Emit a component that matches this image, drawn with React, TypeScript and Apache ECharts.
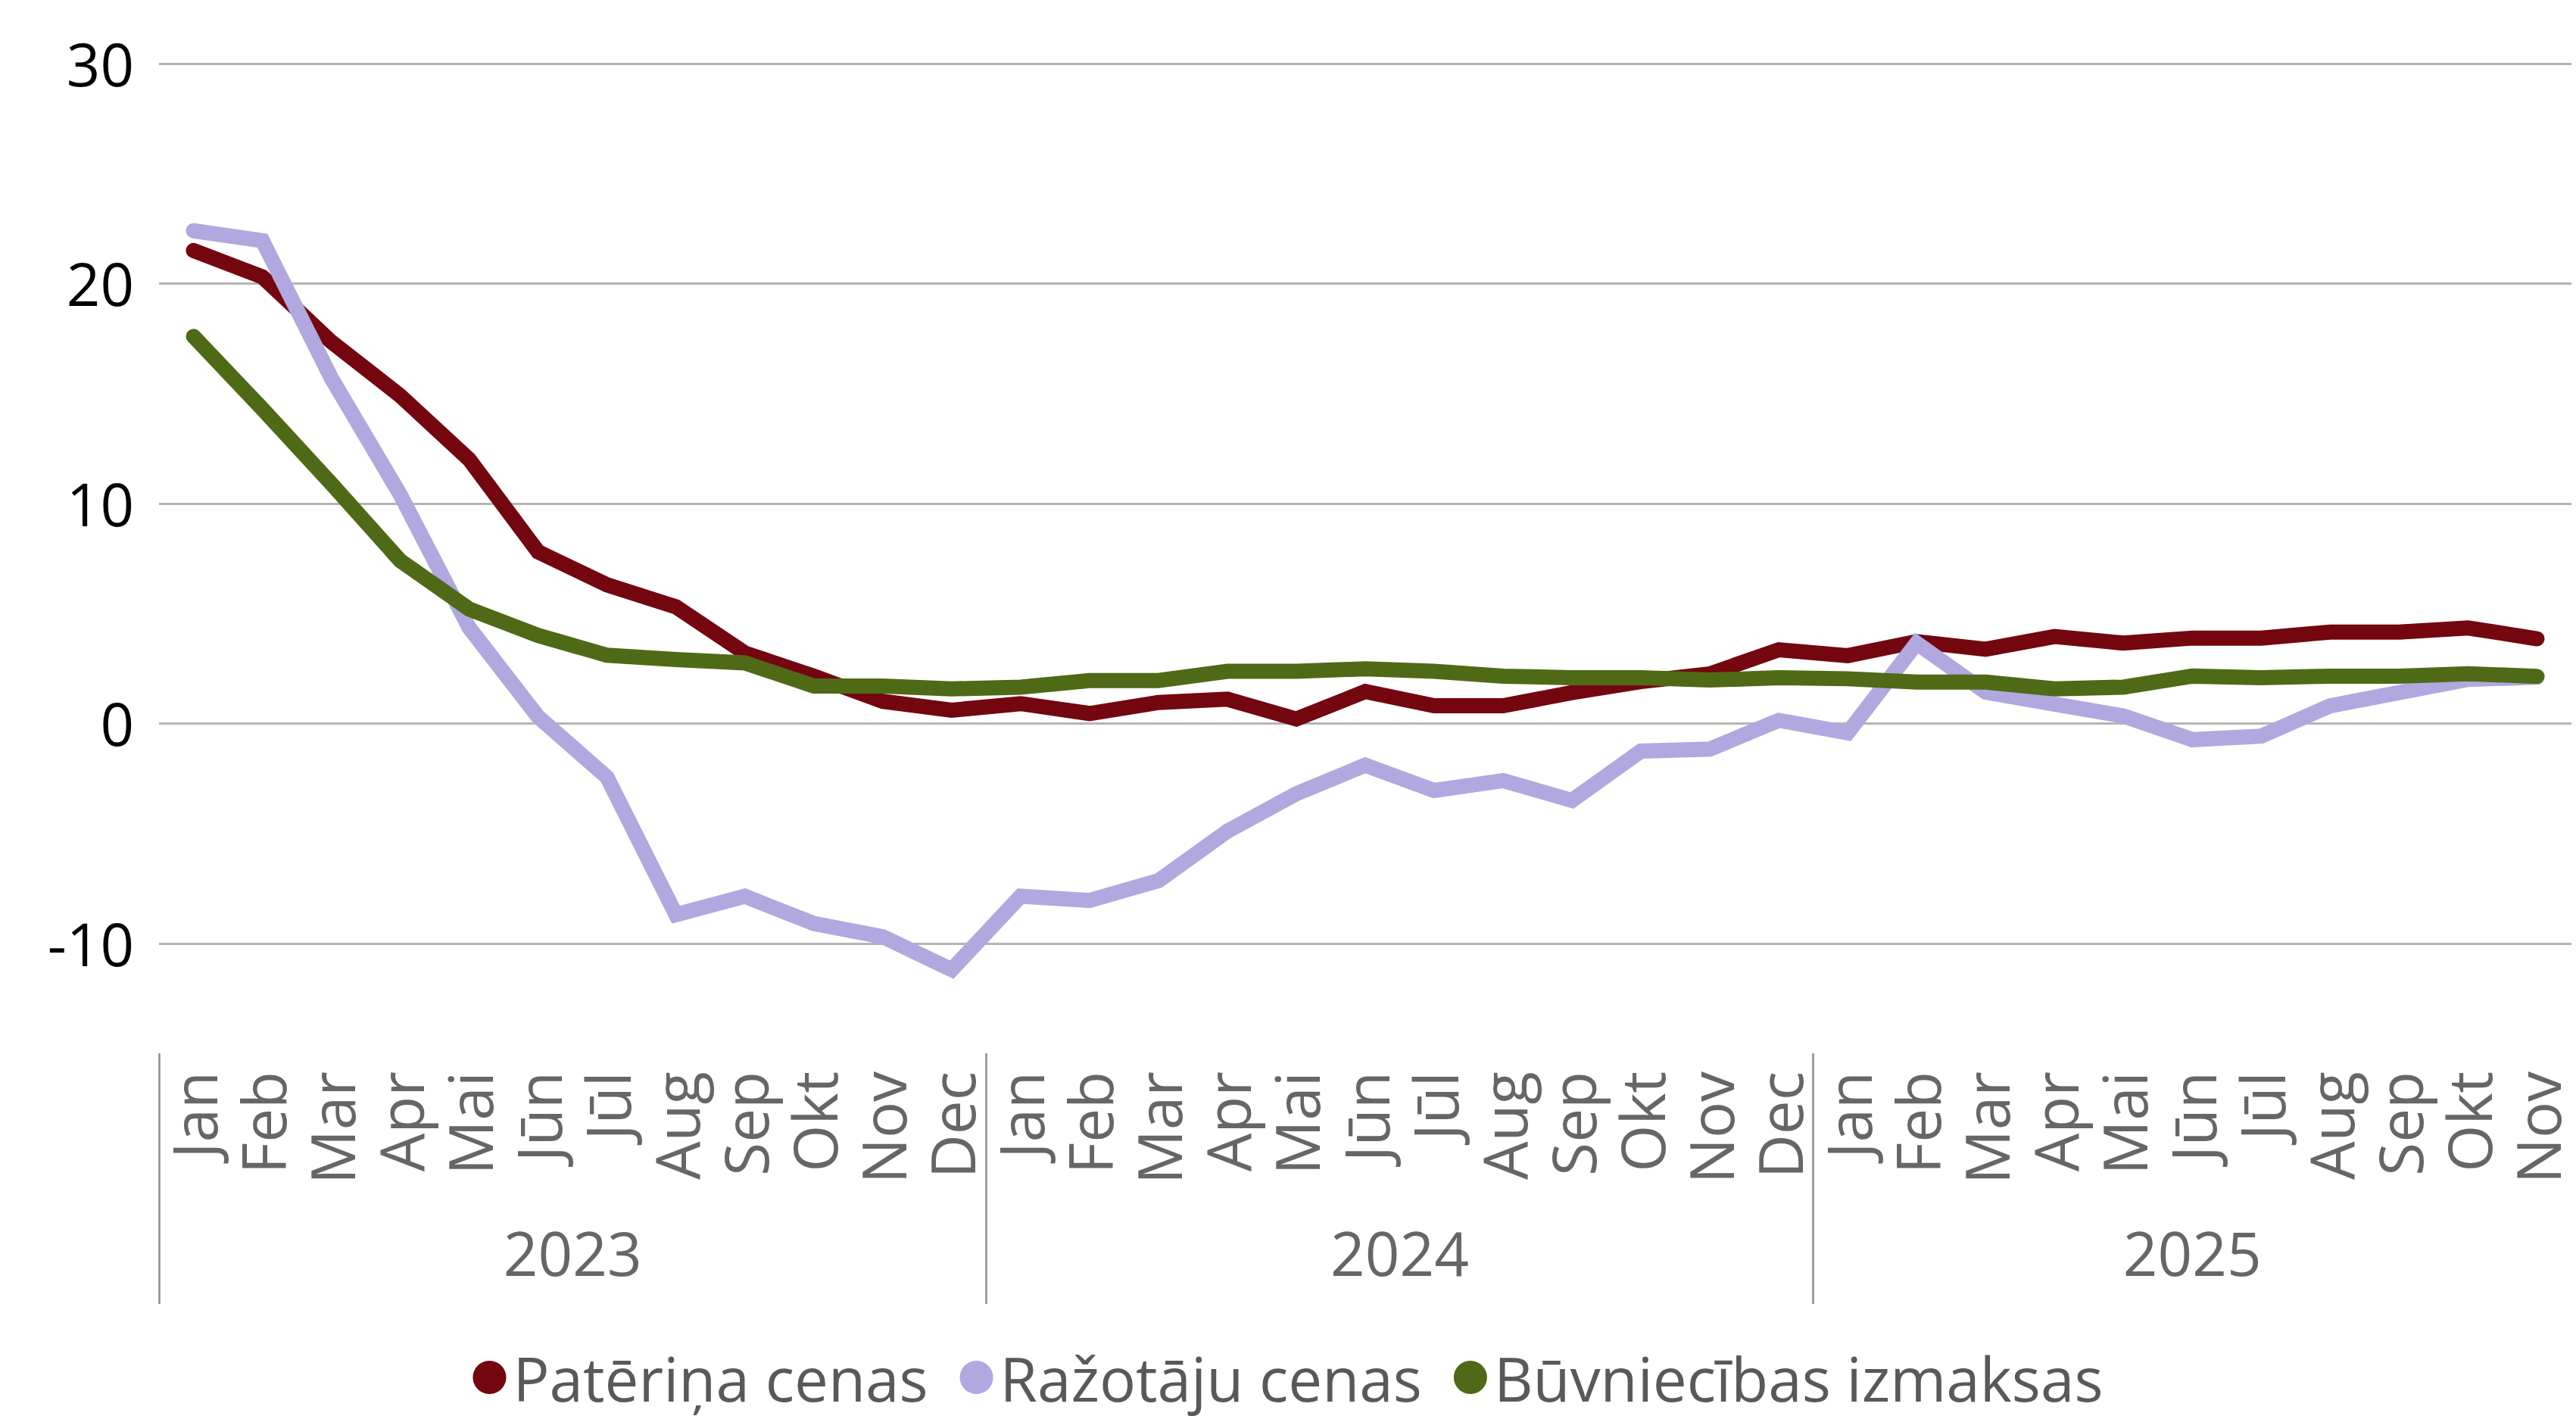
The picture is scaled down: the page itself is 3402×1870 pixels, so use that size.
import { useEffect, useRef } from 'react';
import * as echarts from 'echarts';

const monthNames = ['Jan', 'Feb', 'Mar', 'Apr', 'Mai', 'Jūn', 'Jūl', 'Aug', 'Sep', 'Okt', 'Nov', 'Dec'];
const years = ['2023', '2024', '2025'];
const monthsPerYear = [12, 12, 11];

const pateriņaCenas = [
  21.5, 20.3, 17.35, 14.9, 12.0, 7.8, 6.3, 5.3, 3.2, 2.15, 1.0, 0.6,
  0.9, 0.45, 0.95, 1.1, 0.2, 1.45, 0.8, 0.8, 1.4, 1.9, 2.25, 3.35,
  3.08, 3.72, 3.37, 3.95, 3.65, 3.88, 3.88, 4.15, 4.15, 4.34, 3.85,
];
const razotajuCenas = [
  22.4, 21.95, 15.7, 10.4, 4.35, 0.3, -2.45, -8.7, -7.86, -9.1, -9.7, -11.2,
  -7.86, -8.05, -7.15, -4.9, -3.2, -1.9, -3.05, -2.6, -3.5, -1.26, -1.17, 0.14,
  -0.43, 3.65, 1.42, 0.88, 0.34, -0.74, -0.58, 0.8, 1.4, 2.0, 2.1,
];
const buvniecibasIzmaksas = [
  17.6, 14.3, 10.9, 7.4, 5.2, 4.0, 3.1, 2.9, 2.75, 1.7, 1.7, 1.57,
  1.65, 1.95, 1.95, 2.37, 2.37, 2.48, 2.37, 2.15, 2.08, 2.08, 1.97, 2.08,
  2.03, 1.88, 1.88, 1.57, 1.65, 2.15, 2.08, 2.15, 2.15, 2.26, 2.14,
];

const seriesNames = ['Patēriņa cenas', 'Ražotāju cenas', 'Būvniecības izmaksas'];
const seriesColors = ['#74060F', '#B0A8DF', '#4F6A16'];

const categories: string[] = years.flatMap((_, k) => monthNames.slice(0, monthsPerYear[k]));

// half-month positions for the year level of the axis
const halfLabels: string[] = Array.from({ length: 2 * categories.length + 1 }, () => '');
const separatorIdx = new Set<number>();
{
  let start = 0;
  years.forEach((y, k) => {
    halfLabels[2 * start + monthsPerYear[k]] = y;
    separatorIdx.add(2 * start);
    start += monthsPerYear[k];
  });
}
const halfCats = halfLabels.map((_, i) => 'h' + i);

const FONT = 'Open Sans';

export default function App() {
  const ref = useRef<HTMLDivElement>(null);
  useEffect(() => {
    if (!ref.current) return;
    const chart = echarts.init(ref.current, undefined, { renderer: 'svg' });
    const data = [pateriņaCenas, razotajuCenas, buvniecibasIzmaksas];
    chart.setOption({
      animation: false,
      backgroundColor: '#ffffff',
      textStyle: { fontFamily: FONT },
      grid: { left: 210, top: 84, width: 3186, height: 1307, containLabel: false },
      legend: {
        bottom: 6,
        left: 'center',
        icon: 'circle',
        itemWidth: 44,
        itemHeight: 44,
        itemGap: 42,
        data: seriesNames,
        textStyle: {
          fontSize: 80,
          lineHeight: 80,
          color: '#595959',
          fontFamily: FONT,
          padding: [0, 0, 0, 4],
        },
      },
      xAxis: [
        {
          type: 'category',
          data: categories,
          boundaryGap: true,
          position: 'bottom',
          axisLine: { show: false },
          axisTick: { show: false },
          splitLine: { show: false },
          axisLabel: {
            interval: 0,
            rotate: 90,
            margin: 24,
            fontSize: 80,
            lineHeight: 78,
            color: '#666666',
            fontFamily: FONT,
          },
        },
        {
          type: 'category',
          data: halfCats,
          boundaryGap: false,
          position: 'bottom',
          offset: 0,
          axisLine: { show: false },
          splitLine: { show: false },
          axisTick: {
            show: true,
            interval: (index: number) => separatorIdx.has(index),
            length: 331,
            lineStyle: { color: '#8C8C8C', width: 2.5 },
          },
          axisLabel: {
            interval: 0,
            margin: 222,
            fontSize: 80,
            color: '#666666',
            fontFamily: FONT,
            formatter: (_v: string, idx: number) => halfLabels[idx],
          },
        },
      ],
      yAxis: {
        type: 'value',
        min: -15,
        max: 30,
        interval: 5,
        axisLine: { show: false },
        axisTick: { show: false },
        axisLabel: {
          margin: 33,
          fontSize: 78,
          color: '#000000',
          fontFamily: FONT,
          formatter: (v: number) => (v % 10 === 0 ? String(v) : ''),
        },
        splitLine: {
          show: true,
          lineStyle: { color: ['rgba(0,0,0,0)', '#B4B4B4'], width: 3 },
        },
      },
      series: seriesNames.map((name, i) => ({
        name,
        type: 'line',
        xAxisIndex: 0,
        data: data[i],
        showSymbol: false,
        symbol: 'circle',
        color: seriesColors[i],
        lineStyle: { width: 20, color: seriesColors[i], cap: 'round', join: 'miter' },
        z: 2 + i,
      })),
    });
    return () => chart.dispose();
  }, []);
  return (
    <div
      ref={ref}
      style={{ position: 'absolute', left: 0, top: 0, width: 3402, height: 1870 }}
    />
  );
}
